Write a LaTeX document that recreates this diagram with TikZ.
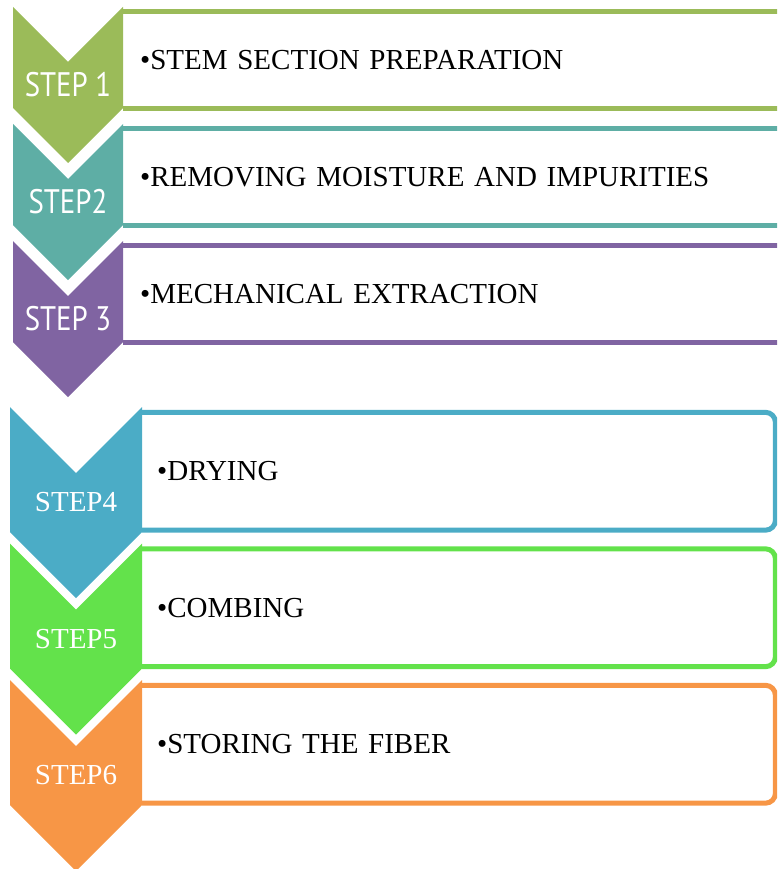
\documentclass[tikz,border=0pt]{standalone}
\usepackage{fontspec}
\setmainfont{Liberation Serif}
\newfontfamily\stepsans[FakeStretch=0.85]{PT Sans}

\definecolor{stepone}{RGB}{155,187,89}
\definecolor{steptwo}{RGB}{94,174,165}
\definecolor{stepthree}{RGB}{128,100,162}
\definecolor{stepfour}{RGB}{75,172,198}
\definecolor{stepfive}{RGB}{99,226,75}
\definecolor{stepsix}{RGB}{247,150,70}

\begin{document}
\begin{tikzpicture}[x=1pt, y=-1pt,
        chev/.style={fill=#1, draw=none},
        border/.style={draw=#1, line width=5pt},
        toplabel/.style={text=white, inner sep=0pt, font=\stepsans\fontsize{34}{36}\selectfont},
        botlabel/.style={text=white, inner sep=0pt, font=\fontsize{29}{32}\selectfont},
        topbox/.style={anchor=west, minimum height=96pt, inner xsep=17pt, inner ysep=0pt,
            text width=643pt, align=left, font=\fontsize{29}{32}\selectfont},
        botbox/.style={anchor=west, minimum height=117.5pt, inner xsep=15pt, inner ysep=0pt,
            text width=603pt, align=left, font=\fontsize{29}{32}\selectfont}
    ]
    \clip (0,0) rectangle (777,869);

    % Steps 1-3 (square boxes running off the page)
    \node[topbox] (box1) at (123,60) {•STEM SECTION PREPARATION};
    \node[topbox] (box2) at (123,177) {•REMOVING MOISTURE AND IMPURITIES};
    \node[topbox] (box3) at (123,294) {•MECHANICAL EXTRACTION};
    \draw[border=stepone] (box1.north west) -- (box1.north east) (box1.south west) -- (box1.south east);
    \draw[border=steptwo] (box2.north west) -- (box2.north east) (box2.south west) -- (box2.south east);
    \draw[border=stepthree] (box3.north west) -- (box3.north east) (box3.south west) -- (box3.south east);

    \fill[chev=stepone] (13,7) -- (68,62) -- (123,7) -- (123,108) -- (68,163) -- (13,108) -- cycle;
    \fill[chev=steptwo] (13,124) -- (68,179) -- (123,124) -- (123,225) -- (68,280) -- (13,225) -- cycle;
    \fill[chev=stepthree] (13,241) -- (68,296) -- (123,241) -- (123,342) -- (68,397) -- (13,342) -- cycle;
    \node[toplabel] (lab1) at (68,85) {STEP 1};
    \node[toplabel] (lab2) at (68,202) {STEP2};
    \node[toplabel] (lab3) at (68,319) {STEP 3};

    % Steps 4-6 (rounded boxes)
    \node[botbox] (box4) at (142,471.25) {•DRYING};
    \node[botbox] (box5) at (142,607.75) {•COMBING};
    \node[botbox] (box6) at (142,744.25) {•STORING THE FIBER};
    \draw[border=stepfour, rounded corners=10pt] (box4.north west) -- (box4.north east) -- (box4.south east) -- (box4.south west);
    \draw[border=stepfive, rounded corners=10pt] (box5.north west) -- (box5.north east) -- (box5.south east) -- (box5.south west);
    \draw[border=stepsix, rounded corners=10pt] (box6.north west) -- (box6.north east) -- (box6.south east) -- (box6.south west);

    \fill[chev=stepfour] (10,407) -- (76,473) -- (142,407) -- (142,532) -- (76,598) -- (10,532) -- cycle;
    \fill[chev=stepfive] (10,543.5) -- (76,609.5) -- (142,543.5) -- (142,668.5) -- (76,734.5) -- (10,668.5) -- cycle;
    \fill[chev=stepsix] (10,680) -- (76,746) -- (142,680) -- (142,805) -- (76,871) -- (10,805) -- cycle;
    \node[botlabel] (lab4) at (76,502.5) {STEP4};
    \node[botlabel] (lab5) at (76,639) {STEP5};
    \node[botlabel] (lab6) at (76,775.5) {STEP6};
\end{tikzpicture}
\end{document}
